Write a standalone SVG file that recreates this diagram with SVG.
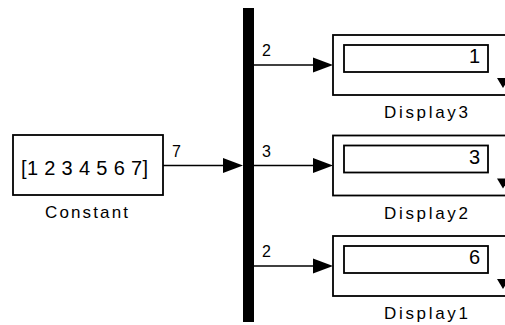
<svg xmlns="http://www.w3.org/2000/svg" width="505" height="325" viewBox="0 0 505 325">
<defs>
<style>
.blk{fill:#fff;stroke:#000;stroke-width:1.8}
.ln{stroke:#000;stroke-width:1.6;fill:none}
.ah{fill:#000}
text{font-family:"Liberation Sans",Arial,sans-serif;fill:#000}
.lbl{font-size:17px;text-anchor:middle}
.val{font-size:20px}
.sig{font-size:16px}
</style>
</defs>
<rect width="505" height="325" fill="#fff"/>
<g id="connectors">
<line class="ln" x1="163" y1="165.5" x2="226" y2="165.5"/>
<polygon class="ah" points="223,158 243,165.5 223,173"/>
<line class="ln" x1="254" y1="65" x2="316" y2="65"/>
<polygon class="ah" points="313,57.5 333,65 313,72.5"/>
<line class="ln" x1="254" y1="165.5" x2="316" y2="165.5"/>
<polygon class="ah" points="313,158 333,165.5 313,173"/>
<line class="ln" x1="254" y1="266" x2="316" y2="266"/>
<polygon class="ah" points="313,258.5 333,266 313,273.5"/>
<text class="sig" x="172" y="157">7</text>
<text class="sig" x="262" y="56">2</text>
<text class="sig" x="262" y="157">3</text>
<text class="sig" x="262" y="257">2</text>
</g>
<g id="Constant">
<rect class="blk" x="13" y="135" width="150" height="60"/>
<text class="val" x="21" y="175" textLength="127" lengthAdjust="spacing">[1 2 3 4 5 6 7]</text>
<text class="lbl" x="86.5" y="218" textLength="83" lengthAdjust="spacing">Constant</text>
</g>
<g id="Mux">
<rect x="243" y="8" width="11" height="314" fill="#000"/>
</g>
<g id="Display3">
<rect class="blk" x="333" y="35" width="180" height="60"/>
<rect class="blk" x="344" y="45" width="144" height="27"/>
<text class="val" x="480" y="63" text-anchor="end">1</text>
<polygon class="ah" points="497,78 509,78 503,88"/>
<text class="lbl" x="426" y="118" textLength="84" lengthAdjust="spacing">Display3</text>
</g>
<g id="Display2">
<rect class="blk" x="333" y="135.5" width="180" height="60"/>
<rect class="blk" x="344" y="145.5" width="144" height="27"/>
<text class="val" x="480" y="163.5" text-anchor="end">3</text>
<polygon class="ah" points="497,178.5 509,178.5 503,188.5"/>
<text class="lbl" x="426" y="218.5" textLength="84" lengthAdjust="spacing">Display2</text>
</g>
<g id="Display1">
<rect class="blk" x="333" y="236" width="180" height="60"/>
<rect class="blk" x="344" y="246" width="144" height="27"/>
<text class="val" x="480" y="264" text-anchor="end">6</text>
<polygon class="ah" points="497,279 509,279 503,289"/>
<text class="lbl" x="426" y="319" textLength="84" lengthAdjust="spacing">Display1</text>
</g>
</svg>
